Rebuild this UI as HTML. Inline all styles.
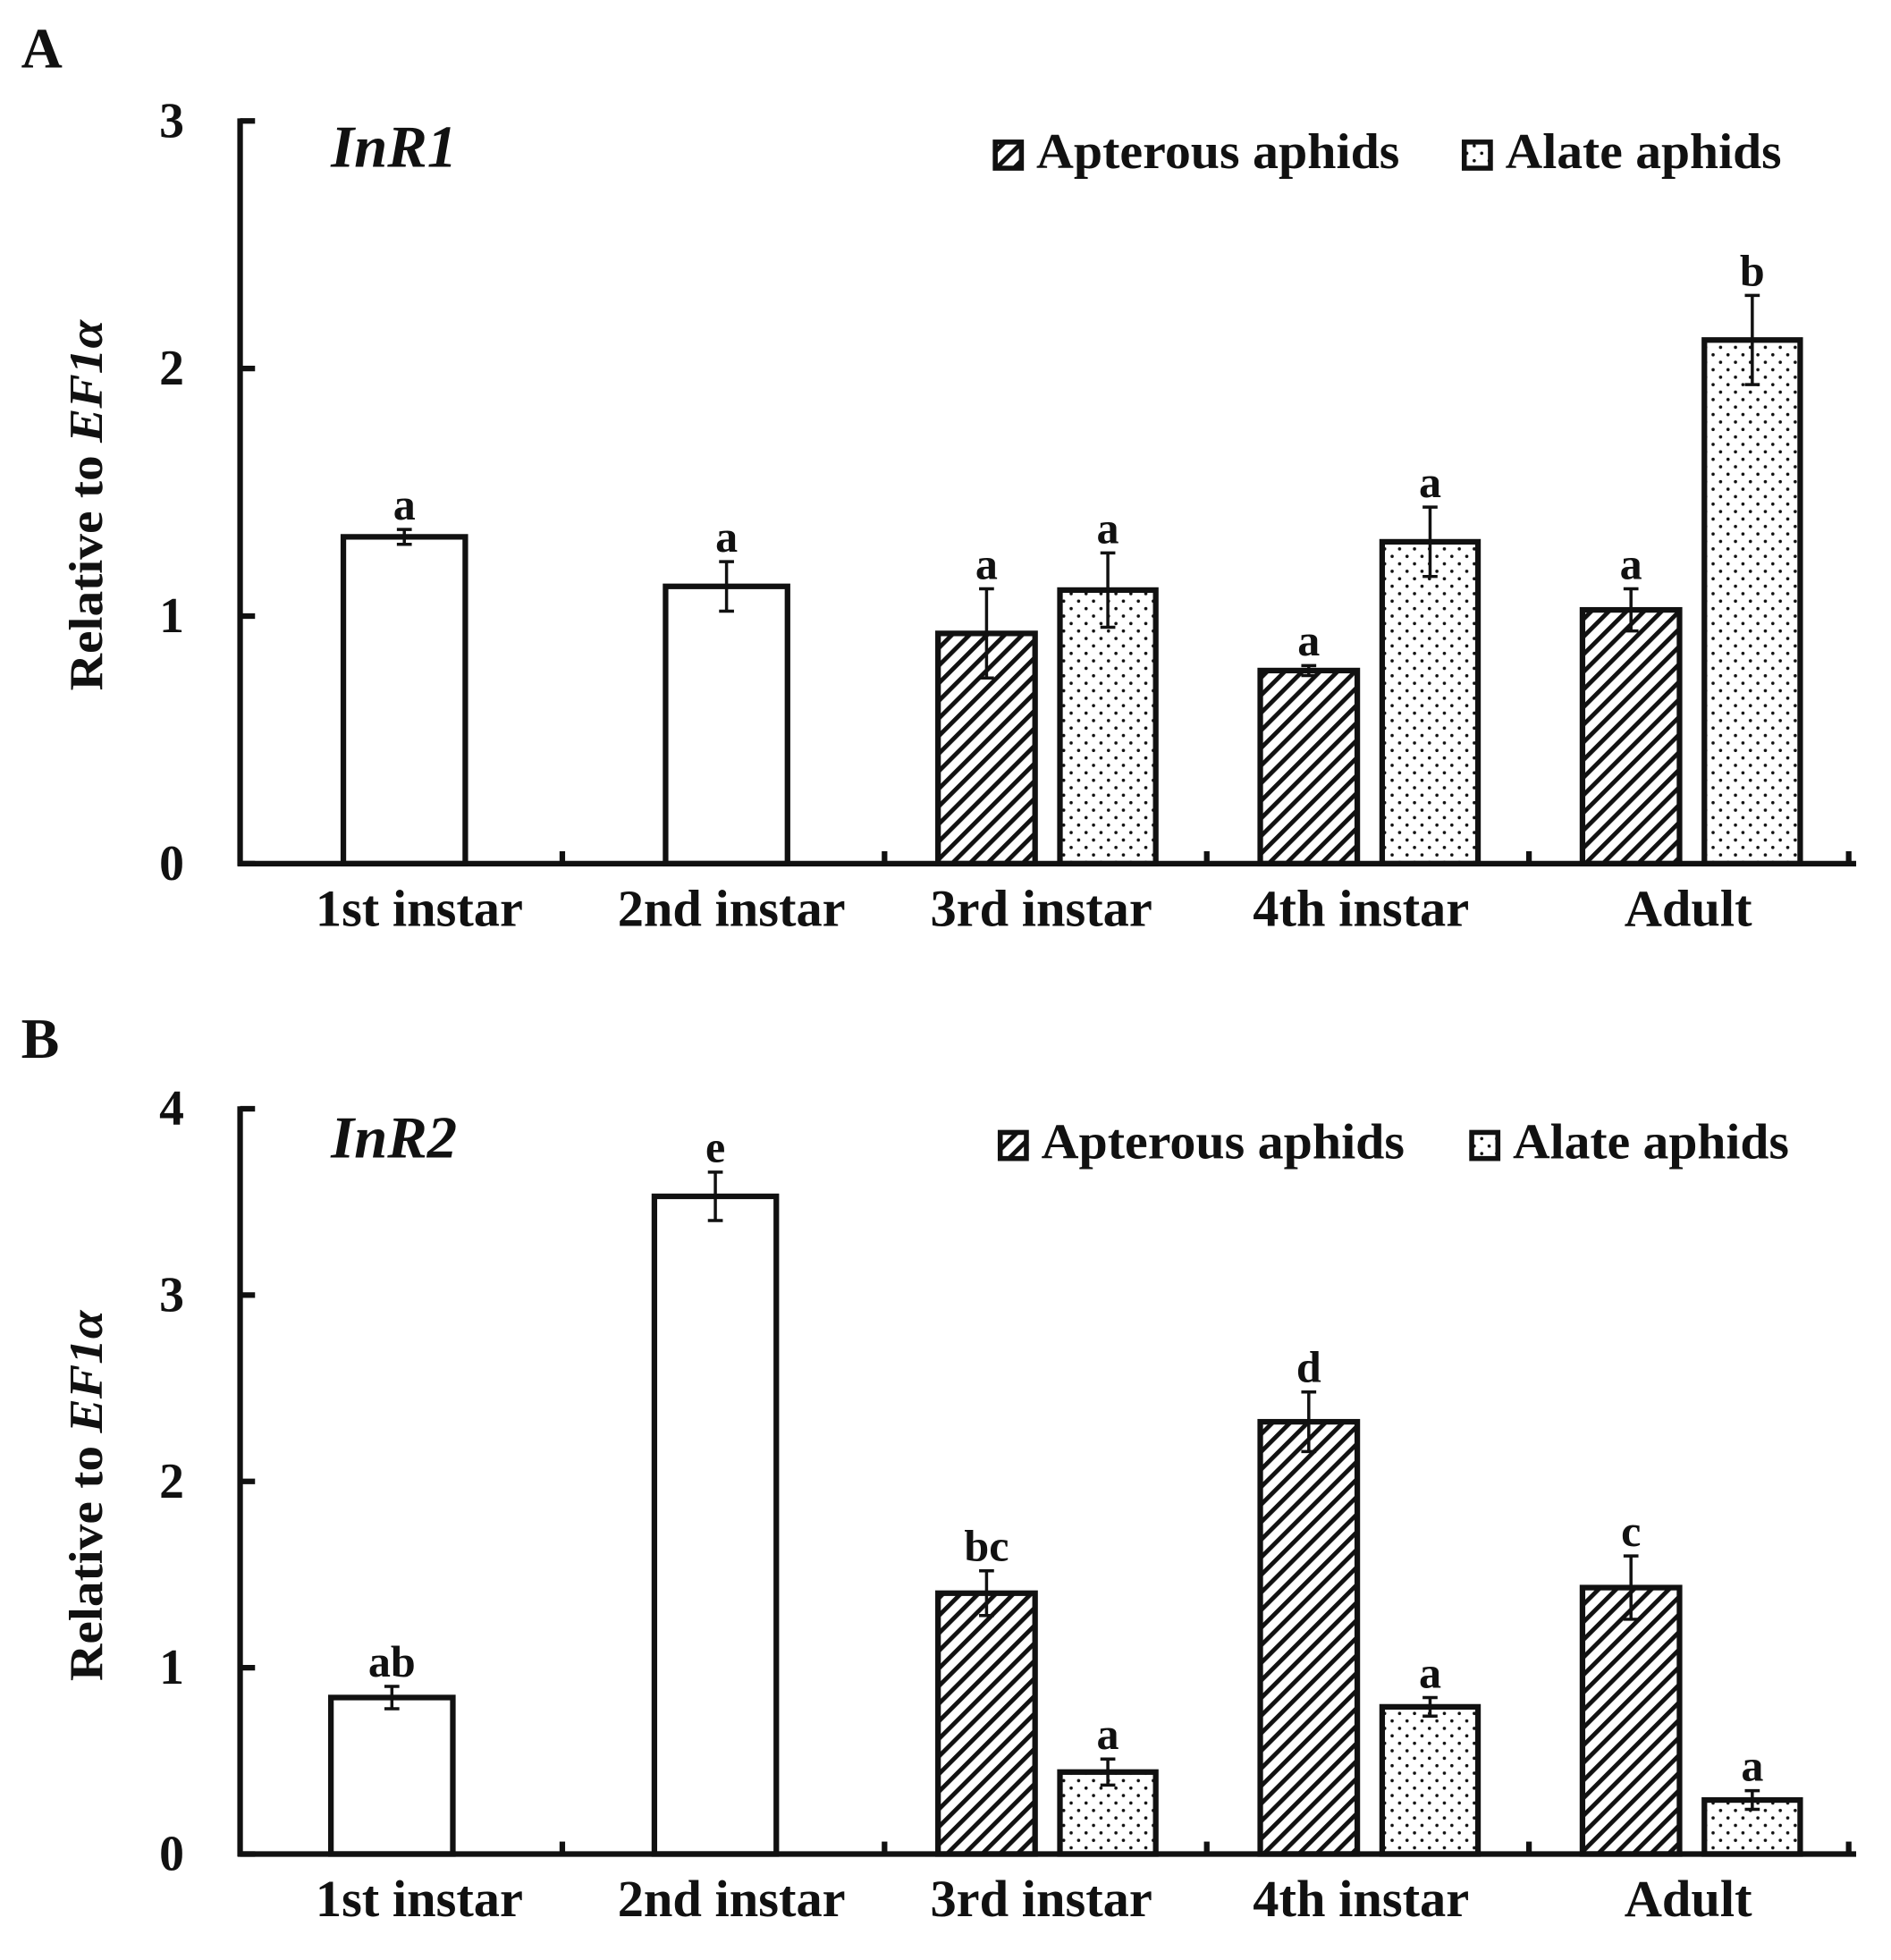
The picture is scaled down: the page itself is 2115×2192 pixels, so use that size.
<!DOCTYPE html>
<html><head><meta charset="utf-8"><style>
html,body{margin:0;padding:0;background:#fff;}
svg{display:block;}
text{font-family:"Liberation Serif",serif;font-weight:bold;fill:#111;}
</style></head><body>
<svg id="fig" width="2115" height="2192" viewBox="0 0 1520 1575" xmlns="http://www.w3.org/2000/svg">
<defs>
<pattern id="hatch" patternUnits="userSpaceOnUse" width="10" height="10" patternTransform="rotate(45)">
<rect width="10" height="10" fill="#fff"/><line x1="0" y1="0" x2="0" y2="10" stroke="#111" stroke-width="7"/>
</pattern>
<pattern id="dots" patternUnits="userSpaceOnUse" width="12" height="12">
<rect width="12" height="12" fill="#fff"/><circle cx="3" cy="3" r="1.3" fill="#111"/><circle cx="9" cy="9" r="1.3" fill="#111"/>
</pattern>
</defs>
<g id="root"></g>
</svg>
<script>
const categories = ["1st instar","2nd instar","3rd instar","4th instar","Adult"];
// Panel A (InR1)
const aApterous = [1.32, 1.12, 0.93, 0.78, 1.025];
const aApterousErr = [0.03, 0.10, 0.18, 0.02, 0.085];
const aApterousLetters = ["a","a","a","a","a"];
const aAlate = [null, null, 1.105, 1.30, 2.115];
const aAlateErr = [null, null, 0.15, 0.14, 0.18];
const aAlateLetters = [null, null, "a","a","b"];
const aTicks = [0,1,2,3];
// Panel B (InR2)
const bApterous = [0.84, 3.53, 1.40, 2.32, 1.43];
const bApterousErr = [0.06, 0.13, 0.12, 0.16, 0.17];
const bApterousLetters = ["ab","e","bc","d","c"];
const bAlate = [null, null, 0.44, 0.79, 0.29];
const bAlateErr = [null, null, 0.07, 0.05, 0.05];
const bAlateLetters = [null, null, "a","a","a"];
const bTicks = [0,1,2,3,4];

const NS="http://www.w3.org/2000/svg";
const root=document.getElementById('root');
function mk(tag,attrs,parent){const e=document.createElementNS(NS,tag);for(const k in attrs)e.setAttribute(k,attrs[k]);(parent||root).appendChild(e);return e;}
const labelCenters=[337,588,837,1094,1357];

function panel(cfg){
  const g=mk('g',{});
  
  
  const x0=193,x1=1492,y0=cfg.y0,yTop=cfg.yTop,maxV=cfg.ticks[cfg.ticks.length-1];
  const ys=v=>y0-(v/maxV)*(y0-yTop);
  const catW=259;
  const catX=i=>x0+catW*i;
  const pl=mk('text',{x:17,y:cfg.letterY,'font-size':46},g);pl.textContent=cfg.letter;
  
  
  for(let i=0;i<categories.length;i++){
    const single=cfg.alate[i]==null;
    const specs=single?[{v:cfg.apt[i],e:cfg.aptErr[i],l:cfg.aptL[i],x:cfg.singleX[i],w:98,fill:'#fff',nm:'bar-'+(i+1)}]
      :[{v:cfg.apt[i],e:cfg.aptErr[i],l:cfg.aptL[i],x:catX(i)+43,w:78,fill:'url(#hatch)',nm:'bar-apterous-'+(i+1)},
        {v:cfg.alate[i],e:cfg.alateErr[i],l:cfg.alateL[i],x:catX(i)+141,w:77,fill:'url(#dots)',nm:'bar-alate-'+(i+1)}];
    for(const s of specs){
      const bx=s.x;
      const r=mk('rect',{x:bx,y:ys(s.v),width:s.w,height:y0-ys(s.v),fill:s.fill,stroke:'#111','stroke-width':4.5},g);
      
      
      const cx=bx+s.w/2;
      const eg=mk('g',{stroke:'#111','stroke-width':2.5},g);
      
      
      mk('line',{x1:cx,x2:cx,y1:ys(s.v+s.e),y2:ys(s.v-s.e)},eg);
      mk('line',{x1:cx-6,x2:cx+6,y1:ys(s.v+s.e),y2:ys(s.v+s.e)},eg);
      mk('line',{x1:cx-6,x2:cx+6,y1:ys(s.v-s.e),y2:ys(s.v-s.e)},eg);
      const t=mk('text',{x:cx,y:ys(s.v+s.e)-8,'font-size':36,'text-anchor':'middle'},g);t.textContent=s.l;
      
      
    }
    const xl=mk('text',{x:labelCenters[i],y:y0+50,'font-size':42,'text-anchor':'middle'},g);
    xl.textContent=categories[i];
    
    
  }
  const ax=mk('g',{stroke:'#111','stroke-width':4.5,fill:'none'},g);
  
  
  mk('line',{x1:x0,y1:yTop-2,x2:x0,y2:y0+2},ax);
  mk('line',{x1:x0-2,y1:y0,x2:x1,y2:y0},ax);
  for(let i=1;i<=5;i++) mk('line',{x1:catX(i)-(i===5?2:0),x2:catX(i)-(i===5?2:0),y1:y0,y2:y0-10},ax);
  for(const t of cfg.ticks){
    mk('line',{x1:x0,x2:x0+12,y1:ys(t),y2:ys(t)},ax);
    const tl=mk('text',{x:148,y:ys(t)+13,'font-size':40,'text-anchor':'end'},g);tl.textContent=t;
    
    
  }
  const yt=mk('text',{transform:`translate(82,${cfg.yTitleC}) rotate(-90)`,'font-size':38,'text-anchor':'middle','font-family':'"Liberation Sans Narrow","Liberation Sans",sans-serif',textLength:298,lengthAdjust:'spacingAndGlyphs'},g);
  yt.innerHTML='Relative to <tspan font-style="italic">EF1α</tspan>';
  
  
  const gt=mk('text',{x:266,y:cfg.titleY,'font-size':48,'font-style':'italic'},g);gt.textContent=cfg.gene;
  
  
  const lg=mk('g',{},g);
  
  
  const L=cfg.leg;
  const s1=mk('rect',{x:L[0],y:cfg.legY-21,width:21,height:21,fill:'url(#hatch)',stroke:'#111','stroke-width':4},lg);
  
  
  const t1=mk('text',{x:L[0]+33,y:cfg.legY,'font-size':40,textLength:292,lengthAdjust:'spacingAndGlyphs'},lg);t1.textContent='Apterous aphids';
  
  
  const s2=mk('rect',{x:L[1],y:cfg.legY-21,width:21,height:21,fill:'url(#dots)',stroke:'#111','stroke-width':4},lg);
  
  
  const t2=mk('text',{x:L[1]+33,y:cfg.legY,'font-size':40,textLength:222,lengthAdjust:'spacingAndGlyphs'},lg);t2.textContent='Alate aphids';
  
  
}
panel({name:'panel-a-inr1',letter:'A',letterY:54,gene:'InR1',titleY:134,y0:694,yTop:97,ticks:aTicks,
  apt:aApterous,aptErr:aApterousErr,aptL:aApterousLetters,alate:aAlate,alateErr:aAlateErr,alateL:aAlateLetters,
  singleX:[276,535],yTitleC:406,leg:[800,1177],legY:135});
panel({name:'panel-b-inr2',letter:'B',letterY:850,gene:'InR2',titleY:930,y0:1490,yTop:891,ticks:bTicks,
  apt:bApterous,aptErr:bApterousErr,aptL:bApterousLetters,alate:bAlate,alateErr:bAlateErr,alateL:bAlateLetters,
  singleX:[266,526],yTitleC:1202,leg:[804,1183],legY:931});
</script>
</body></html>
